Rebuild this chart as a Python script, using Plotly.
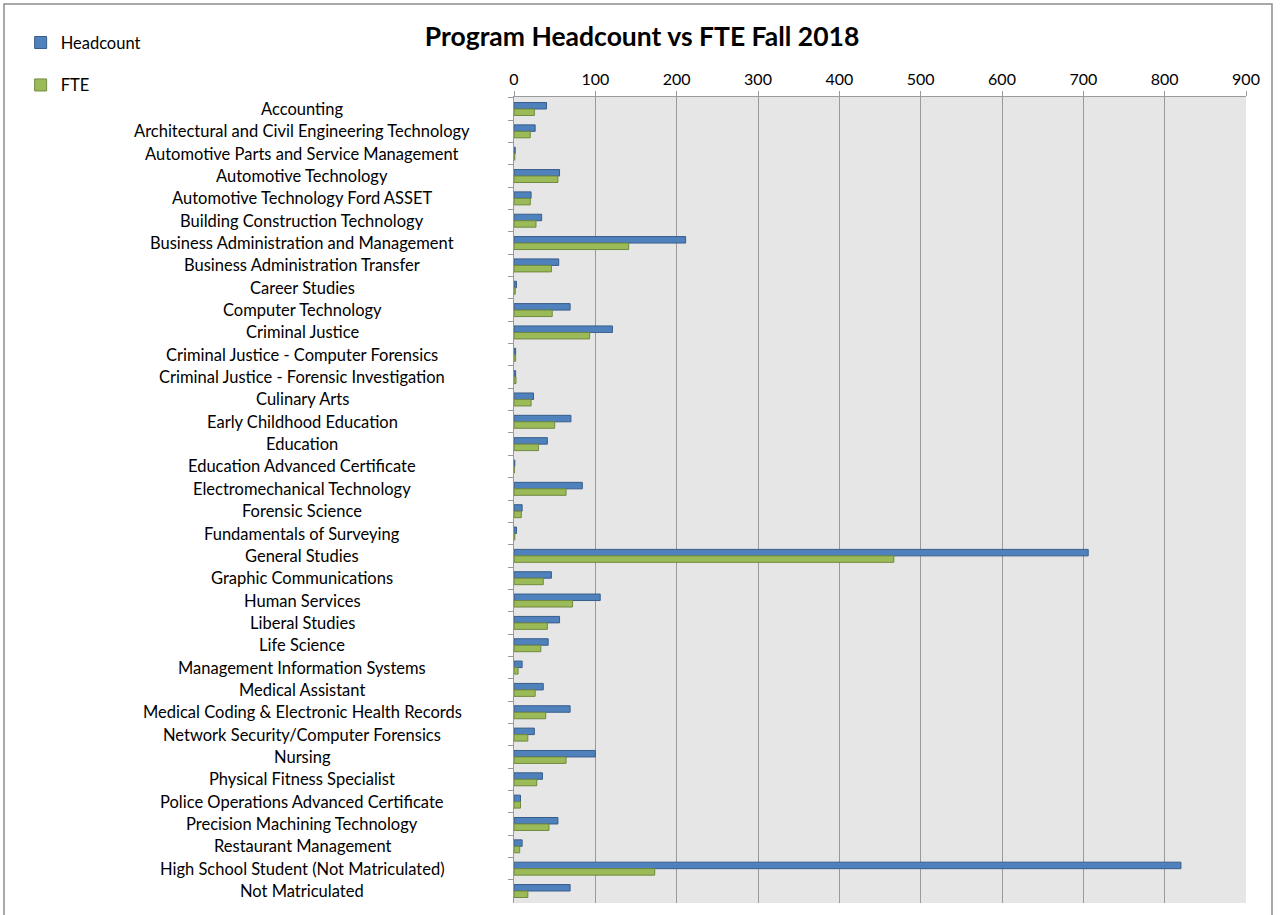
import plotly.graph_objects as go

# programs, top to bottom
programs = [
    "Accounting",
    "Architectural and Civil Engineering Technology",
    "Automotive Parts and Service Management",
    "Automotive Technology",
    "Automotive Technology Ford ASSET",
    "Building Construction Technology",
    "Business Administration and Management",
    "Business Administration Transfer",
    "Career Studies",
    "Computer Technology",
    "Criminal Justice",
    "Criminal Justice - Computer Forensics",
    "Criminal Justice - Forensic Investigation",
    "Culinary Arts",
    "Early Childhood Education",
    "Education",
    "Education Advanced Certificate",
    "Electromechanical Technology",
    "Forensic Science",
    "Fundamentals of Surveying",
    "General Studies",
    "Graphic Communications",
    "Human Services",
    "Liberal Studies",
    "Life Science",
    "Management Information Systems",
    "Medical Assistant",
    "Medical Coding & Electronic Health Records",
    "Network Security/Computer Forensics",
    "Nursing",
    "Physical Fitness Specialist",
    "Police Operations Advanced Certificate",
    "Precision Machining Technology",
    "Restaurant Management",
    "High School Student (Not Matriculated)",
    "Not Matriculated",
]

headcount = [40, 26, 1.5, 56, 21, 34, 211, 55, 3, 69,
             121, 2, 2, 24, 70, 41, 1, 84, 10, 3,
             706, 46, 106, 56, 42, 10, 36, 69, 25, 100,
             35, 8, 54, 10, 820, 69]

fte = [25, 20, 1, 54, 20, 27, 141, 46, 1.5, 47,
       93, 2, 2.5, 21, 50, 30, 0.5, 64, 9, 1,
       467, 36, 72, 41, 33, 5, 26, 39, 17, 64,
       28, 8, 43, 7, 173, 17]

x_ticks = list(range(0, 901, 100))

FONT = "Lato, Calibri, Carlito, sans-serif"

fig = go.Figure()
fig.add_trace(go.Bar(
    y=programs, x=headcount, name="Headcount", orientation="h",
    legendgroup="hc",
    marker=dict(color="#4f81bd", line=dict(color="#385d8a", width=1)),
))
fig.add_trace(go.Bar(
    y=programs, x=fte, name="FTE", orientation="h",
    legendgroup="fte",
    marker=dict(color="#9bbb59", line=dict(color="#71893f", width=1)),
))

# centred category labels, Excel style
for p in programs:
    fig.add_annotation(
        x=-0.289, xref="paper", y=p, yref="y",
        text=p, showarrow=False, xanchor="center",
        font=dict(family=FONT, size=16.5, color="#000000"),
    )

# outer chart frame
fig.add_shape(
    type="rect", xref="paper", yref="paper",
    x0=-0.6967, x1=1.0355, y0=-0.03, y1=1.1154,
    line=dict(color="#8c8c8c", width=1.5), fillcolor="rgba(0,0,0,0)",
    layer="below",
)

fig.update_layout(
    width=1281, height=915,
    margin=dict(l=514, r=35, t=97, b=12, autoexpand=False),
    paper_bgcolor="white",
    plot_bgcolor="#e6e6e6",
    barmode="group",
    bargap=0.42,
    bargroupgap=0,
    font=dict(family=FONT, size=16, color="#000000"),
    title=dict(
        text="<b>Program Headcount vs FTE Fall 2018</b>",
        x=0.175, xref="paper", xanchor="center",
        y=1 - 37 / 915, yref="container", yanchor="middle",
        font=dict(family=FONT, size=26.5, color="#000000"),
    ),
    legend=dict(
        x=-0.674, xanchor="left", y=1.089, yanchor="top",
        traceorder="grouped", tracegroupgap=18,
        font=dict(family=FONT, size=16.5),
        bgcolor="rgba(0,0,0,0)",
        itemwidth=30,
    ),
    xaxis=dict(
        side="top", range=[0, 900], tickvals=x_ticks,
        showgrid=True, gridcolor="#9a9a9a", gridwidth=1,
        showline=True, linecolor="#9a9a9a", linewidth=1,
        ticks="outside", ticklen=5, tickcolor="#9a9a9a",
        zeroline=False, fixedrange=True,
        tickfont=dict(family=FONT, size=16),
    ),
    yaxis=dict(
        autorange="reversed", type="category",
        showticklabels=False,
        showline=True, linecolor="#9a9a9a", linewidth=1,
        ticks="outside", ticklen=5, tickcolor="#9a9a9a",
        tickson="boundaries", showgrid=False,
    ),
)

# drop the browser's default body margin so the figure sits at the page origin
fig.write_html("out.html", config={"displayModeBar": False},
               post_script="document.body.style.margin='0';")
